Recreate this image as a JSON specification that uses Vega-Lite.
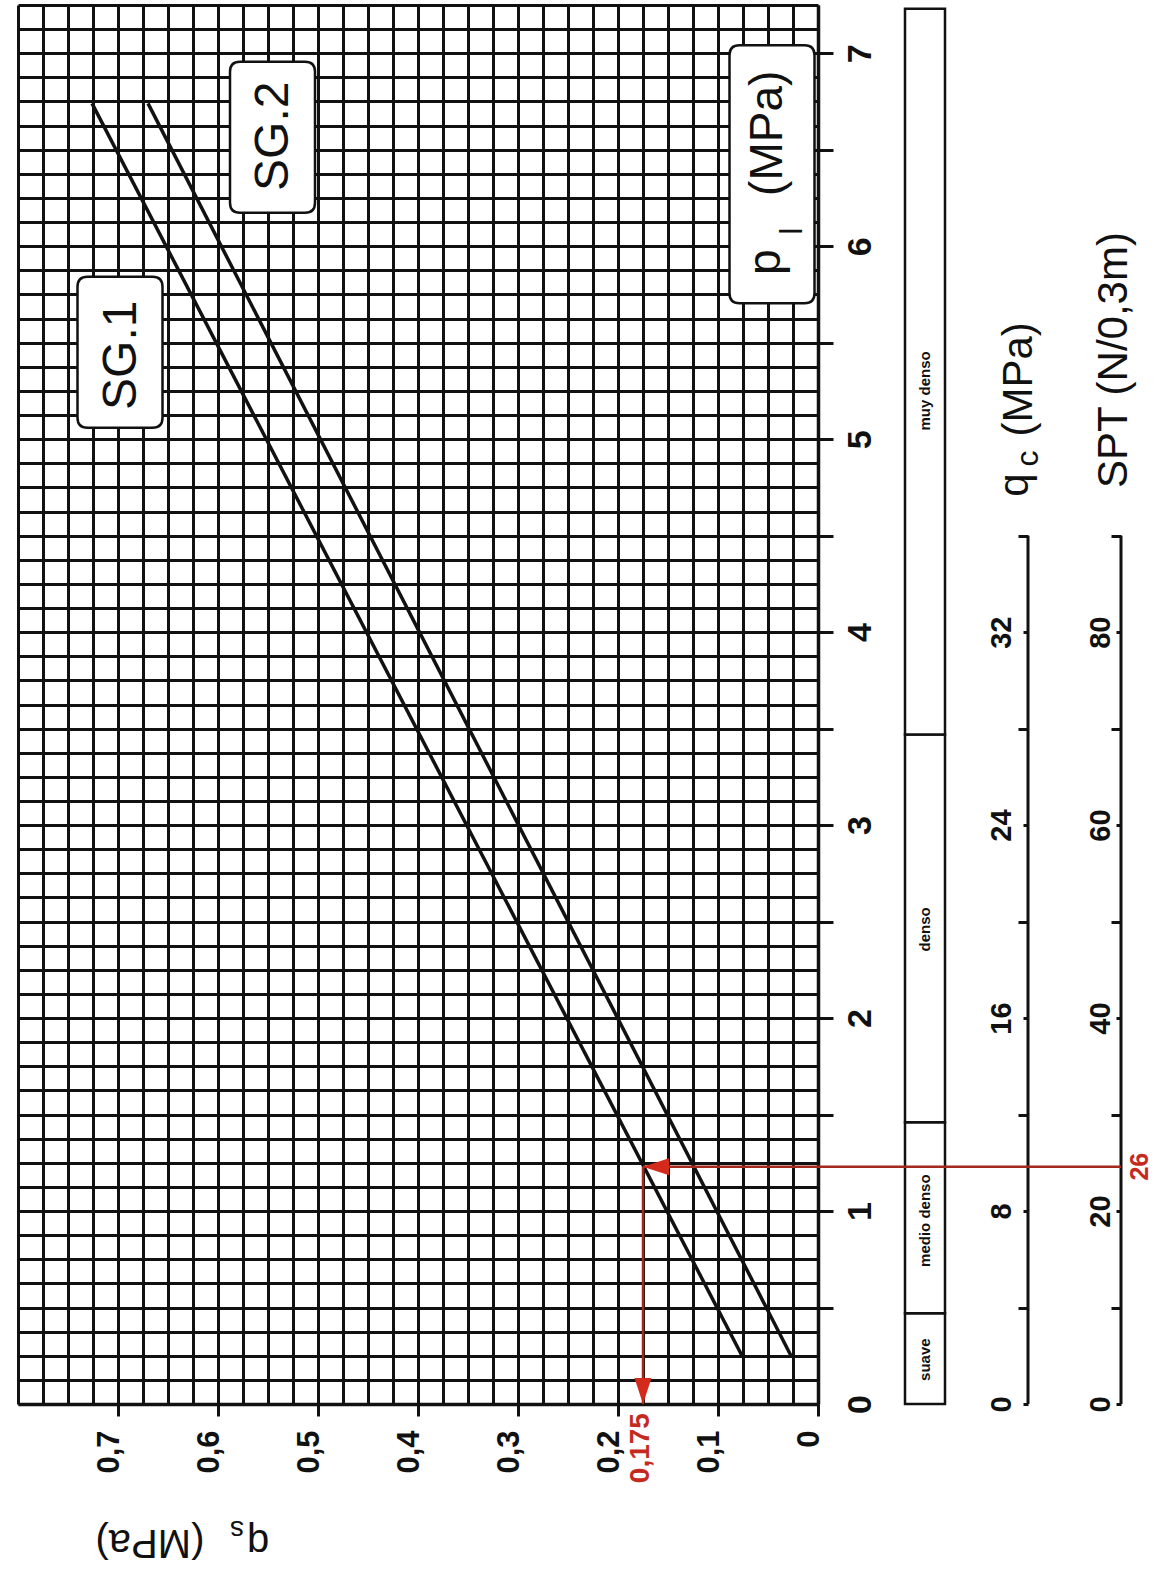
{
  "$schema": "https://vega.github.io/schema/vega-lite/v6.json",
  "width": 800,
  "height": 1399,
  "autosize": {"type": "none"},
  "padding": {"left": 18, "top": 5, "right": 340, "bottom": 168},
  "background": "white",
  "config": {"view": {"stroke": null}, "font": "Liberation Sans"},
  "datasets": {
    "curves": [
      {"series": "SG.1", "qs": 0.076, "pl": 0.25},
      {"series": "SG.1", "qs": 0.726, "pl": 6.74},
      {"series": "SG.2", "qs": 0.027, "pl": 0.25},
      {"series": "SG.2", "qs": 0.67, "pl": 6.74}
    ],
    "density": [
      {"cls": "suave", "lo": 0, "hi": 0.47, "lab": 0.23},
      {"cls": "medio denso", "lo": 0.47, "hi": 1.46, "lab": 0.95},
      {"cls": "denso", "lo": 1.46, "hi": 3.47, "lab": 2.46},
      {"cls": "muy denso", "lo": 3.47, "hi": 7.23, "lab": 5.25}
    ],
    "boxes": [
      {"label": "SG.1", "qs": 0.698, "pl": 5.45},
      {"label": "SG.2", "qs": 0.5455, "pl": 6.565}
    ],
    "plbox": [{"label": "pl", "qs": 0.046, "pl": 6.373}],
    "redpt": [{"qs": 0.175, "pl": 1.23, "spt": 26}],
    "notes": [
      {"t": "SG.1", "qs": 0.696, "pl": 5.435, "kind": "sg"},
      {"t": "SG.2", "qs": 0.544, "pl": 6.57, "kind": "sg"},
      {"t": "p", "qs": 0.038, "pl": 5.917, "kind": "pltitle"},
      {"t": "(MPa)", "qs": 0.036, "pl": 6.585, "kind": "pltitle"},
      {"t": "l", "qs": 0.016, "pl": 6.078, "kind": "sub"},
      {"t": "q", "qs": -0.21, "pl": 4.762, "kind": "axtitle"},
      {"t": "c", "qs": -0.22, "pl": 4.9, "kind": "sub"},
      {"t": "(MPa)", "qs": -0.214, "pl": 5.31, "kind": "axtitle"},
      {"t": "SPT (N/0,3m)", "qs": -0.309, "pl": 5.41, "kind": "axtitle"},
      {"t": "q", "qs": 0.56, "pl": -0.653, "kind": "qstitle"},
      {"t": "s", "qs": 0.581, "pl": -0.606, "kind": "qssub"},
      {"t": "(MPa)", "qs": 0.668, "pl": -0.653, "kind": "qstitle"},
      {"t": "26", "qs": -0.322, "pl": 1.23, "kind": "red"},
      {"t": "0,175", "qs": 0.177, "pl": -0.047, "kind": "redtick"}
    ]
  },
  "layer": [
    {
      "data": {"name": "curves"},
      "mark": {"type": "line", "stroke": "#111", "strokeWidth": 3.5},
      "encoding": {
        "x": {
          "field": "qs", "type": "quantitative",
          "scale": {"domain": [0, 0.8], "reverse": true, "nice": false, "zero": false},
          "axis": {
            "orient": "bottom", "title": null, "tickCount": 200,
            "values": [0,0.025,0.05,0.075,0.1,0.125,0.15,0.175,0.2,0.225,0.25,0.275,0.3,0.325,0.35,0.375,0.4,0.425,0.45,0.475,0.5,0.525,0.55,0.575,0.6,0.625,0.65,0.675,0.7,0.725,0.75,0.775,0.8],
            "grid": true, "gridColor": "#111", "gridWidth": 3, "gridOpacity": 1,
            "domain": true, "domainColor": "#111", "domainWidth": 3.5,
            "ticks": true, "tickColor": "#111", "tickSize": 12, "tickWidth": 3,
            "tickOpacity": {"condition": {"test": "abs(datum.value*10 - round(datum.value*10)) < 0.001 && datum.value < 0.75", "value": 1}, "value": 0},
            "labelExpr": "abs(datum.value*10 - round(datum.value*10)) < 0.001 && datum.value < 0.75 ? (datum.value == 0 ? '0' : replace(format(datum.value, '.1f'), '.', ',')) : ''",
            "labelAngle": 270, "labelAlign": "right", "labelBaseline": "middle",
            "labelFontSize": 31, "labelFontWeight": "bold", "labelColor": "#111", "labelPadding": 14, "labelOffset": -9,
            "labelOverlap": false, "labelFlush": false
          }
        },
        "y": {
          "field": "pl", "type": "quantitative",
          "scale": {"domain": [0, 7.25], "nice": false, "zero": false},
          "axis": {
            "orient": "right", "title": null, "tickCount": 200,
            "values": [0,0.125,0.25,0.375,0.5,0.625,0.75,0.875,1,1.125,1.25,1.375,1.5,1.625,1.75,1.875,2,2.125,2.25,2.375,2.5,2.625,2.75,2.875,3,3.125,3.25,3.375,3.5,3.625,3.75,3.875,4,4.125,4.25,4.375,4.5,4.625,4.75,4.875,5,5.125,5.25,5.375,5.5,5.625,5.75,5.875,6,6.125,6.25,6.375,6.5,6.625,6.75,6.875,7,7.125,7.25],
            "grid": true, "gridColor": "#111", "gridWidth": 3, "gridOpacity": 1,
            "domain": true, "domainColor": "#111", "domainWidth": 3.5,
            "ticks": true, "tickColor": "#111", "tickSize": 15, "tickWidth": 3,
            "tickOpacity": {"condition": {"test": "abs(datum.value*2 - round(datum.value*2)) < 0.001 && datum.value > 0.1 && datum.value < 7.1", "value": 1}, "value": 0},
            "labelExpr": "abs(datum.value - round(datum.value)) < 0.001 && datum.value < 7.1 ? format(datum.value, 'd') : ''",
            "labelAngle": 270, "labelAlign": "center", "labelBaseline": "top",
            "labelFontSize": 34, "labelFontWeight": "bold", "labelColor": "#111", "labelPadding": 10,
            "labelOverlap": false, "labelFlush": false
          }
        },
        "detail": {"field": "series"}
      }
    },
    {
      "data": {"name": "boxes"},
      "mark": {"type": "point", "filled": true, "fill": "white", "stroke": "#111", "strokeWidth": 2.5, "opacity": 1, "size": 4,
        "shape": "M-32.5,-75.5H32.5Q42.5,-75.5 42.5,-65.5V65.5Q42.5,75.5 32.5,75.5H-32.5Q-42.5,75.5 -42.5,65.5V-65.5Q-42.5,-75.5 -32.5,-75.5Z"},
      "encoding": {
        "x": {"field": "qs", "type": "quantitative"},
        "y": {"field": "pl", "type": "quantitative", "axis": null}
      }
    },
    {
      "data": {"name": "plbox"},
      "mark": {"type": "point", "filled": true, "fill": "white", "stroke": "#111", "strokeWidth": 2.5, "opacity": 1, "size": 4,
        "shape": "M-32.5,-129H32.5Q42.5,-129 42.5,-119V119Q42.5,129 32.5,129H-32.5Q-42.5,129 -42.5,119V-119Q-42.5,-129 -32.5,-129Z"},
      "encoding": {
        "x": {"field": "qs", "type": "quantitative"},
        "y": {"field": "pl", "type": "quantitative", "axis": null}
      }
    },
    {
      "data": {"name": "density"},
      "mark": {"type": "rect", "fill": "white", "stroke": "#111", "strokeWidth": 2.5},
      "encoding": {
        "x": {"datum": -0.087, "type": "quantitative"},
        "x2": {"datum": -0.127},
        "y": {"field": "lo", "type": "quantitative", "axis": null},
        "y2": {"field": "hi"}
      }
    },
    {
      "data": {"name": "density"},
      "mark": {"type": "text", "angle": 270, "fontSize": 15, "fontWeight": "bold", "align": "center", "baseline": "middle", "color": "#111"},
      "encoding": {
        "x": {"datum": -0.107, "type": "quantitative"},
        "y": {"field": "lab", "type": "quantitative", "axis": null},
        "text": {"field": "cls"}
      }
    },
    {
      "data": {"values": [{}]},
      "mark": {"type": "rule", "stroke": "#111", "strokeWidth": 3},
      "encoding": {
        "x": {"datum": -0.21, "type": "quantitative"},
        "y": {
          "datum": 0, "type": "quantitative",
          "axis": {
            "orient": "left", "offset": -1010, "title": null, "tickCount": 200,
            "values": [0,0.5,1,1.5,2,2.5,3,3.5,4,4.5],
            "grid": false, "domain": false,
            "ticks": true, "tickColor": "#111", "tickWidth": 3, "tickOpacity": 1,
            "tickSize": {"condition": {"test": "abs(datum.value - round(datum.value)) < 0.001", "value": 5}, "value": 10},
            "labelExpr": "abs(datum.value - round(datum.value)) < 0.001 && datum.value < 4.2 ? format(datum.value*8, 'd') : ''",
            "labelAngle": 270, "labelAlign": "center", "labelBaseline": "alphabetic",
            "labelFontSize": 29, "labelFontWeight": "bold", "labelColor": "#111", "labelPadding": 13,
            "labelOverlap": false, "labelFlush": false
          }
        },
        "y2": {"datum": 4.5}
      }
    },
    {
      "data": {"values": [{}]},
      "mark": {"type": "rule", "stroke": "#111", "strokeWidth": 3},
      "encoding": {
        "x": {"datum": -0.303, "type": "quantitative"},
        "y": {
          "datum": 0, "type": "quantitative",
          "axis": {
            "orient": "left", "offset": -1103, "title": null, "tickCount": 200,
            "values": [0,0.5,1,1.5,2,2.5,3,3.5,4,4.5],
            "grid": false, "domain": false,
            "ticks": true, "tickColor": "#111", "tickWidth": 3, "tickOpacity": 1,
            "tickSize": {"condition": {"test": "abs(datum.value - round(datum.value)) < 0.001", "value": 5}, "value": 10},
            "labelExpr": "abs(datum.value - round(datum.value)) < 0.001 && datum.value < 4.2 ? format(datum.value*20, 'd') : ''",
            "labelAngle": 270, "labelAlign": "center", "labelBaseline": "alphabetic",
            "labelFontSize": 29, "labelFontWeight": "bold", "labelColor": "#111", "labelPadding": 7,
            "labelOverlap": false, "labelFlush": false
          }
        },
        "y2": {"datum": 4.5}
      }
    },
    {
      "data": {"name": "redpt"},
      "mark": {"type": "rule", "stroke": "#a3281d", "strokeWidth": 2.5},
      "encoding": {
        "x": {"field": "qs", "type": "quantitative"},
        "x2": {"datum": -0.303},
        "y": {"field": "pl", "type": "quantitative", "axis": null}
      }
    },
    {
      "data": {"name": "redpt"},
      "mark": {"type": "rule", "stroke": "#a3281d", "strokeWidth": 2.5},
      "encoding": {
        "x": {"field": "qs", "type": "quantitative"},
        "y": {"field": "pl", "type": "quantitative", "axis": null},
        "y2": {"datum": 0}
      }
    },
    {
      "data": {"name": "redpt"},
      "mark": {"type": "point", "filled": true, "color": "#d42a1c", "opacity": 1, "size": 4, "shape": "M0,0L26,-8.5L26,8.5Z"},
      "encoding": {
        "x": {"field": "qs", "type": "quantitative"},
        "y": {"field": "pl", "type": "quantitative", "axis": null}
      }
    },
    {
      "data": {"name": "redpt"},
      "mark": {"type": "point", "filled": true, "color": "#d42a1c", "opacity": 1, "size": 4, "shape": "M0,0L-8.5,-26L8.5,-26Z"},
      "encoding": {
        "x": {"field": "qs", "type": "quantitative"},
        "y": {"datum": 0, "type": "quantitative", "axis": null}
      }
    },
    {
      "data": {"name": "notes"},
      "transform": [{"filter": "datum.kind == 'sg'"}],
      "mark": {"type": "text", "angle": 270, "fontSize": 48, "align": "center", "baseline": "middle", "color": "#111"},
      "encoding": {
        "x": {"field": "qs", "type": "quantitative"},
        "y": {"field": "pl", "type": "quantitative", "axis": null},
        "text": {"field": "t"}
      }
    },
    {
      "data": {"name": "notes"},
      "transform": [{"filter": "datum.kind == 'pltitle'"}],
      "mark": {"type": "text", "angle": 270, "fontSize": 46, "align": "center", "baseline": "alphabetic", "color": "#111"},
      "encoding": {
        "x": {"field": "qs", "type": "quantitative"},
        "y": {"field": "pl", "type": "quantitative", "axis": null},
        "text": {"field": "t"}
      }
    },
    {
      "data": {"name": "notes"},
      "transform": [{"filter": "datum.kind == 'axtitle'"}],
      "mark": {"type": "text", "angle": 270, "fontSize": 42, "align": "center", "baseline": "alphabetic", "color": "#111"},
      "encoding": {
        "x": {"field": "qs", "type": "quantitative"},
        "y": {"field": "pl", "type": "quantitative", "axis": null},
        "text": {"field": "t"}
      }
    },
    {
      "data": {"name": "notes"},
      "transform": [{"filter": "datum.kind == 'sub'"}],
      "mark": {"type": "text", "angle": 270, "fontSize": 32, "align": "center", "baseline": "alphabetic", "color": "#111"},
      "encoding": {
        "x": {"field": "qs", "type": "quantitative"},
        "y": {"field": "pl", "type": "quantitative", "axis": null},
        "text": {"field": "t"}
      }
    },
    {
      "data": {"name": "notes"},
      "transform": [{"filter": "datum.kind == 'qstitle'"}],
      "mark": {"type": "text", "angle": 180, "fontSize": 40, "align": "center", "baseline": "alphabetic", "color": "#111"},
      "encoding": {
        "x": {"field": "qs", "type": "quantitative"},
        "y": {"field": "pl", "type": "quantitative", "axis": null},
        "text": {"field": "t"}
      }
    },
    {
      "data": {"name": "notes"},
      "transform": [{"filter": "datum.kind == 'qssub'"}],
      "mark": {"type": "text", "angle": 180, "fontSize": 28, "align": "center", "baseline": "alphabetic", "color": "#111"},
      "encoding": {
        "x": {"field": "qs", "type": "quantitative"},
        "y": {"field": "pl", "type": "quantitative", "axis": null},
        "text": {"field": "t"}
      }
    },
    {
      "data": {"name": "notes"},
      "transform": [{"filter": "datum.kind == 'red'"}],
      "mark": {"type": "text", "angle": 270, "fontSize": 25, "fontWeight": "bold", "align": "center", "baseline": "middle", "color": "#c42b1e"},
      "encoding": {
        "x": {"field": "qs", "type": "quantitative"},
        "y": {"field": "pl", "type": "quantitative", "axis": null},
        "text": {"field": "t"}
      }
    },
    {
      "data": {"name": "notes"},
      "transform": [{"filter": "datum.kind == 'redtick'"}],
      "mark": {"type": "text", "angle": 270, "fontSize": 28, "fontWeight": "bold", "align": "right", "baseline": "middle", "color": "#c42b1e"},
      "encoding": {
        "x": {"field": "qs", "type": "quantitative"},
        "y": {"field": "pl", "type": "quantitative", "axis": null},
        "text": {"field": "t"}
      }
    }
  ],
  "resolve": {"axis": {"y": "independent"}}
}
